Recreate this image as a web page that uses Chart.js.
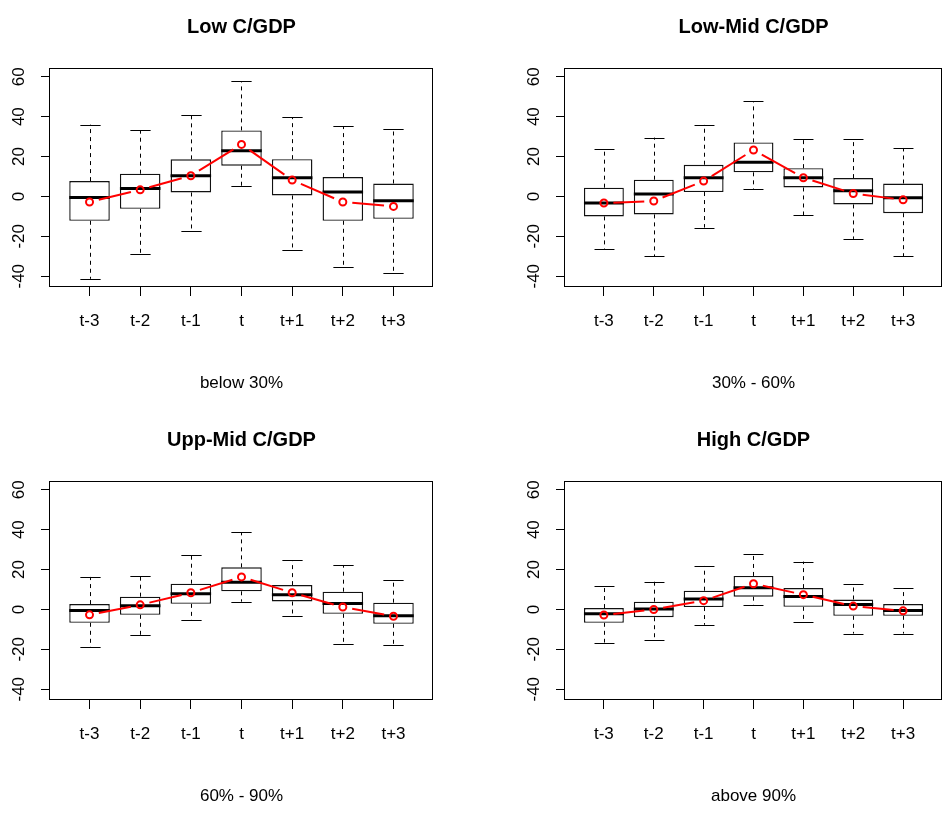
<!DOCTYPE html>
<html>
<head>
<meta charset="utf-8">
<script src="https://cdn.jsdelivr.net/npm/chart.js@4.4.1/dist/chart.umd.min.js"></script>
<style>
  html, body { margin: 0; padding: 0; background: #fff; overflow: hidden; }
  canvas { position: absolute; }
</style>
</head>
<body>
<canvas id="c1" width="474" height="400" style="left:0;top:0"></canvas>
<canvas id="c2" width="433" height="400" style="left:515px;top:0"></canvas>
<canvas id="c3" width="474" height="400" style="left:0;top:413px"></canvas>
<canvas id="c4" width="433" height="400" style="left:515px;top:413px"></canvas>
<script>
const FONT = '"Liberation Sans", Arial, Helvetica, sans-serif';

// periodos em torno do evento
const periods = ['t-3', 't-2', 't-1', 't', 't+1', 't+2', 't+3'];
const yTicks = [-40, -20, 0, 20, 40, 60];

// Low C/GDP (below 30%)
const lowMin  = [-41.3, -29.0, -17.2,  5.0, -26.8, -35.6, -38.3];
const lowQ1   = [-12.2,  -6.2,   2.0, 15.4,   0.5, -12.2, -11.2];
const lowMed  = [ -0.5,   4.0,  10.4, 22.9,   9.4,   2.2,  -2.2];
const lowQ3   = [  7.7,  11.4,  18.6, 33.1,  18.7,   9.7,   6.5];
const lowMax  = [ 36.0,  33.1,  41.0, 57.7,  39.8,  35.3,  33.8];
const lowMean = [ -2.8,   3.3,  10.4, 26.1,   8.2,  -2.8,  -5.0];

// Low-Mid C/GDP (30% - 60%)
const lmMin  = [-26.3, -30.1, -15.6,  3.8, -9.5, -21.3, -30.1];
const lmQ1   = [-10.0,  -9.0,   2.2, 12.1,  4.5,  -4.0,  -8.4];
const lmMed  = [ -3.3,   1.2,   9.4, 17.1,  9.4,   2.8,  -0.7];
const lmQ3   = [  4.4,   8.4,  15.9, 27.1, 14.2,   9.2,   6.5];
const lmMax  = [ 23.8,  29.5,  36.0, 47.7, 28.6,  28.6,  24.3];
const lmMean = [ -3.3,  -2.3,   7.7, 23.3,  9.4,   1.5,  -1.7];

// Upp-Mid C/GDP (60% - 90%)
const umMin  = [-18.8, -12.7, -5.5,  3.9, -3.2, -17.1, -17.8];
const umQ1   = [ -6.7,  -2.7,  2.8,  9.1,  4.0,  -2.2,  -7.2];
const umMed  = [ -0.5,   1.8,  7.9, 13.6,  7.4,   3.0,  -3.2];
const umQ3   = [  2.7,   6.4, 12.9, 21.1, 12.2,   8.9,   3.4];
const umMax  = [ 16.3,  16.8, 27.3, 38.6, 24.6,  22.3,  14.6];
const umMean = [ -2.7,   2.3,  8.4, 16.3,  8.4,   1.2,  -3.4];

// High C/GDP (above 90%)
const hiMin  = [-16.6, -15.1, -7.7,  2.3, -6.2, -12.1, -12.1];
const hiQ1   = [ -6.7,  -3.9,  1.2,  6.4,  1.3,  -3.2,  -3.2];
const hiMed  = [ -2.2,   0.2,  5.2, 10.9,  6.5,   2.5,  -0.5];
const hiQ3   = [  0.7,   3.9,  9.4, 16.8, 10.7,   5.0,   2.7];
const hiMax  = [ 11.7,  13.9, 21.8, 27.8, 24.0,  12.9,  10.7];
const hiMean = [ -2.8,   0.0,  4.4, 12.9,  7.4,   1.7,  -0.7];

// bigodes, medianas, linha das medias e moldura
function boxPlugin(s) {
  return {
    id: 'boxExtras',
    beforeDatasetsDraw(chart) {
      const ctx = chart.ctx, y = chart.scales.y;
      const boxes = chart.getDatasetMeta(0).data;
      ctx.save();
      ctx.strokeStyle = '#000';
      ctx.lineWidth = 1;
      boxes.forEach((b, i) => {
        const x = Math.round(b.x) + 0.5;
        const cap = b.width / 4;
        ctx.setLineDash([4, 4]);
        ctx.beginPath();
        ctx.moveTo(x, y.getPixelForValue(s.q3[i]));
        ctx.lineTo(x, y.getPixelForValue(s.max[i]));
        ctx.moveTo(x, y.getPixelForValue(s.q1[i]));
        ctx.lineTo(x, y.getPixelForValue(s.min[i]));
        ctx.stroke();
        ctx.setLineDash([]);
        ctx.beginPath();
        [s.max[i], s.min[i]].forEach(v => {
          const py = Math.round(y.getPixelForValue(v)) + 0.5;
          ctx.moveTo(x - cap, py);
          ctx.lineTo(x + cap, py);
        });
        ctx.stroke();
      });
      ctx.restore();
    },
    afterDatasetDraw(chart, args) {
      if (args.index !== 0) return;
      const ctx = chart.ctx, y = chart.scales.y;
      ctx.save();
      ctx.strokeStyle = '#000';
      ctx.lineWidth = 3;
      args.meta.data.forEach((b, i) => {
        const py = y.getPixelForValue(s.med[i]);
        ctx.beginPath();
        ctx.moveTo(b.x - b.width / 2, py);
        ctx.lineTo(b.x + b.width / 2, py);
        ctx.stroke();
      });
      ctx.restore();
    },
    afterDatasetsDraw(chart) {
      const ctx = chart.ctx, a = chart.chartArea;
      const pts = chart.getDatasetMeta(1).data;
      const gap = 9.5;
      ctx.save();
      ctx.strokeStyle = '#ff0000';
      ctx.lineWidth = 2;
      for (let i = 0; i < pts.length - 1; i++) {
        const p = pts[i], q = pts[i + 1];
        const dx = q.x - p.x, dy = q.y - p.y;
        const len = Math.hypot(dx, dy);
        if (len <= 2 * gap) continue;
        const ux = dx / len, uy = dy / len;
        ctx.beginPath();
        ctx.moveTo(p.x + ux * gap, p.y + uy * gap);
        ctx.lineTo(q.x - ux * gap, q.y - uy * gap);
        ctx.stroke();
      }
      ctx.strokeStyle = '#000';
      ctx.lineWidth = 1;
      ctx.strokeRect(Math.round(a.left) - 0.5, Math.round(a.top) + 0.5,
                     Math.round(a.right) - Math.round(a.left), Math.round(a.bottom) - Math.round(a.top) - 1);
      ctx.restore();
    }
  };
}

function makeChart(id, title, subtitle, s, padRight) {
  const labelFont = { family: FONT, size: 17 };
  return new Chart(document.getElementById(id), {
    type: 'bar',
    data: {
      datasets: [
        {
          type: 'bar',
          data: periods.map((p, i) => ({ x: i + 1, y: [s.q1[i], s.q3[i]] })),
          backgroundColor: '#fff',
          borderColor: '#111',
          borderWidth: 1.4,
          borderSkipped: false,
          grouped: false,
          barPercentage: 0.8,
          categoryPercentage: 1,
          order: 2
        },
        {
          type: 'line',
          data: periods.map((p, i) => ({ x: i + 1, y: s.mean[i] })),
          showLine: false,
          pointRadius: 3.5,
          pointBorderWidth: 2,
          pointBorderColor: '#ff0000',
          pointBackgroundColor: 'rgba(0,0,0,0)',
          order: 1
        }
      ]
    },
    options: {
      responsive: false,
      animation: false,
      events: [],
      layout: { padding: { left: 0, right: padRight, top: 0, bottom: 0 } },
      plugins: {
        legend: { display: false },
        tooltip: { enabled: false },
        title: {
          display: true,
          text: title,
          fullSize: false,
          color: '#000',
          font: { family: FONT, size: 20, weight: 'bold', lineHeight: 1.2 },
          padding: { top: 15, bottom: 29 }
        }
      },
      scales: {
        x: {
          type: 'linear',
          min: 0.22,
          max: 7.78,
          offset: false,
          afterFit(sc) { sc.height = 113; },
          afterBuildTicks(sc) { sc.ticks = periods.map((p, i) => ({ value: i + 1 })); },
          ticks: {
            autoSkip: false,
            maxRotation: 0,
            color: '#000',
            font: labelFont,
            padding: 15,
            callback: v => periods[v - 1]
          },
          grid: { offset: false, drawOnChartArea: false, tickLength: 9, color: '#000' },
          border: { display: false },
          title: { display: true, text: subtitle, color: '#000', font: labelFont, padding: { top: 0, bottom: 6 } }
        },
        y: {
          min: -45.4,
          max: 64.4,
          afterFit(sc) { sc.width = 50; },
          afterBuildTicks(sc) { sc.ticks = yTicks.map(v => ({ value: v })); },
          ticks: {
            minRotation: 90,
            maxRotation: 90,
            crossAlign: 'center',
            align: 'end',
            padding: 1,
            color: '#000',
            font: labelFont
          },
          grid: { drawOnChartArea: false, tickLength: 9, color: '#000' },
          border: { display: false }
        }
      }
    },
    plugins: [boxPlugin(s)]
  });
}

makeChart('c1', 'Low C/GDP', 'below 30%',
  { min: lowMin, q1: lowQ1, med: lowMed, q3: lowQ3, max: lowMax, mean: lowMean }, 41);
makeChart('c2', 'Low-Mid C/GDP', '30% - 60%',
  { min: lmMin, q1: lmQ1, med: lmMed, q3: lmQ3, max: lmMax, mean: lmMean }, 1);
makeChart('c3', 'Upp-Mid C/GDP', '60% - 90%',
  { min: umMin, q1: umQ1, med: umMed, q3: umQ3, max: umMax, mean: umMean }, 41);
makeChart('c4', 'High C/GDP', 'above 90%',
  { min: hiMin, q1: hiQ1, med: hiMed, q3: hiQ3, max: hiMax, mean: hiMean }, 1);
</script>
</body>
</html>
